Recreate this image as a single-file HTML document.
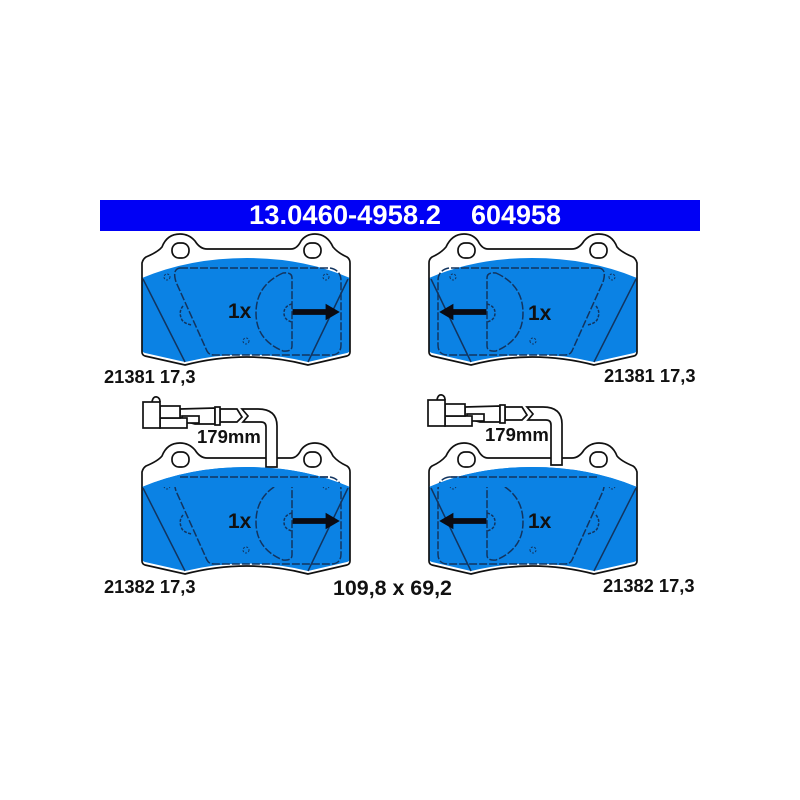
<!DOCTYPE html>
<html><head><meta charset="utf-8">
<style>html,body{margin:0;padding:0;background:#fff;width:800px;height:800px;overflow:hidden}svg{display:block}text{font-family:"Liberation Sans",sans-serif;font-weight:bold;fill:#111}</style>
</head><body>
<svg width="800" height="800" viewBox="0 0 800 800" xmlns="http://www.w3.org/2000/svg">
<defs>
<path id="outline" d="M142 352 L142 263 Q143 259 146 257 Q158 252 162 247 Q167 234 180 234 Q189 234 195 241 Q200 249 207 249 L291 249 Q297 249 301 241 Q306 234 315 234 Q327 234 333 247 Q338 253 347 257 Q350 259 350 263 L350 352 Q350 355 347 356 L308 365 Q247 349 185 365 L145 356 Q142 355 142 352 Z"/>
<g id="pad">
  <use href="#outline" fill="#fff"/>
  <rect x="172" y="243" width="17" height="15" rx="7" fill="#fff" stroke="#111" stroke-width="1.700"/>
  <rect x="304" y="243" width="17" height="15" rx="7" fill="#fff" stroke="#111" stroke-width="1.700"/>
  <path d="M142 278 Q190 258 247 258 Q304 258 350 278 L350 350 Q350 352 347 353 L308 362 Q247 347 185 362 L145 353 Q142 352 142 350 Z" fill="#0b82e4"/>
  <use href="#outline" fill="none" stroke="#111" stroke-width="1.700"/>
  <g fill="none" stroke="#12345f" stroke-width="1.500">
    <path d="M143 279 L185 362 M348 279 L308 362"/>
    <g stroke-dasharray="8 2">
      <path d="M180 268 L330 268 Q341 270 341 281 L341 345 Q341 355 331 355 L214 355 Q209 355 207 351 L176 282 Q172 269 180 268 Z"/>
      <path d="M283 273 Q256 285 256 313 Q256 340 283 351 Q292 352 292 346 L292 278 Q292 272 283 273 Z"/>
      <path d="M292 304 Q284 306 284 313 Q284 320 292 322" stroke-dasharray="3 1.500"/>
      <path d="M183 306 Q178 312 182 320 Q185 324 192 325" stroke-dasharray="3 1.500"/>
    </g>
    <g stroke-width="1" stroke-dasharray="2 1.500">
      <circle cx="167" cy="277" r="3"/><circle cx="326" cy="277" r="3"/><circle cx="246" cy="341" r="3"/>
    </g>
  </g>
  <path d="M293 309.500 L326 309.500 L326 304.500 L339 312 L326 319.500 L326 314.500 L293 314.500 Z" fill="#0b0b12" stroke="#0b0b12" stroke-width="0.800"/>
</g>
<g id="sensor" fill="#fff" stroke="#111" stroke-width="1.700">
  <path d="M266 467 L266 427 Q266 422 261 422 L243 422 L248 416 L242 409 L258 409 Q277 409 277 426 L277 467 Z"/>
  <path d="M220 409 L237 409 L242 417 L237 422 L220 422 Z"/>
  <path d="M180 409 L215 408 L215 424 L195 424 L180 420 Z"/>
  <rect x="215" y="407" width="5" height="18"/>
  <rect x="182" y="416" width="17" height="7"/>
  <rect x="160" y="418" width="27" height="10"/>
  <rect x="160" y="406" width="20" height="12"/>
  <rect x="143" y="402" width="17" height="26"/>
  <path d="M152 402 Q153 396 157 397 Q160 398 160 402" fill="none"/>
</g>
</defs>
<rect x="100" y="200" width="600" height="31" fill="#0000f5"/>
<text x="249" y="224" font-size="26.500" textLength="192" lengthAdjust="spacingAndGlyphs" style="fill:#fff">13.0460-4958.2</text>
<text x="471" y="224" font-size="26.500" textLength="90" lengthAdjust="spacingAndGlyphs" style="fill:#fff">604958</text>

<use href="#pad"/>
<use href="#pad" transform="translate(779 0) scale(-1 1)"/>
<use href="#pad" transform="translate(0 209)"/>
<use href="#pad" transform="translate(779 209) scale(-1 1)"/>

<use href="#sensor"/>
<use href="#sensor" transform="translate(285 -2)"/>
<path d="M142 487 Q190 467 247 467 Q304 467 350 487 Z" fill="#0b82e4"/>
<path d="M429 487 Q475 467 532 467 Q589 467 637 487 Z" fill="#0b82e4"/>
<g fill="none" stroke="#12345f" stroke-width="1.500" stroke-dasharray="8 2">
  <path d="M180 477 L330 477"/>
  <path d="M449 477 L599 477"/>
</g>

<text x="228" y="318" font-size="21">1x</text>
<text x="528" y="320" font-size="21">1x</text>
<text x="228" y="528" font-size="21">1x</text>
<text x="528" y="528" font-size="21">1x</text>

<text x="104" y="383" font-size="18.300">21381 17,3</text>
<text x="604" y="382" font-size="18.300">21381 17,3</text>
<text x="104" y="593" font-size="18.300">21382 17,3</text>
<text x="603" y="592" font-size="18.300">21382 17,3</text>
<text x="197" y="443" font-size="18.500">179mm</text>
<text x="485" y="441" font-size="18.500">179mm</text>
<text x="333" y="595" font-size="21.400">109,8 x 69,2</text>
</svg>
</body></html>
